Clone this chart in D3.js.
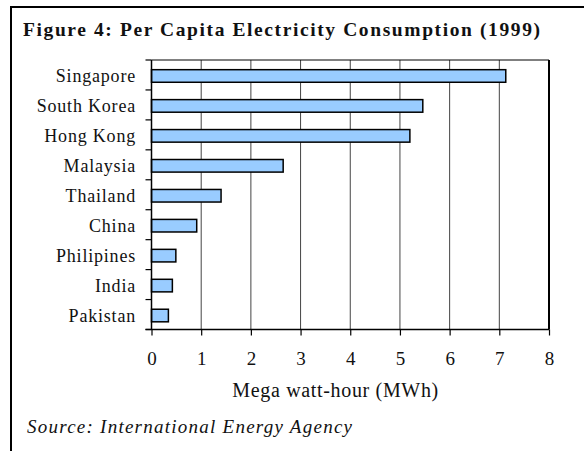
<!DOCTYPE html>
<html>
<head>
<meta charset="utf-8">
<script src="https://cdn.jsdelivr.net/npm/d3@7"></script>
<style>
  body { margin: 0; background: #fff; }
  svg text { font-family: "Liberation Serif", "Times New Roman", "DejaVu Serif", serif; fill: #111; }
</style>
</head>
<body>
<svg id="chart" width="584" height="451"></svg>
<script>
// data
const countries = ['Singapore','South Korea','Hong Kong','Malaysia','Thailand','China','Philipines','India','Pakistan'];
const mwh = [7.13, 5.46, 5.20, 2.65, 1.40, 0.91, 0.49, 0.42, 0.34];
const xTicks = [0,1,2,3,4,5,6,7,8];

const serif = '"Liberation Serif", "Times New Roman", "DejaVu Serif", serif';
const svg = d3.select('#chart');

// outer frame (only left + top visible)
svg.append('path')
  .attr('d','M11,451 V7 H584')
  .attr('fill','none')
  .attr('stroke','#000')
  .attr('stroke-width',2);

svg.append('text')
  .attr('x',23).attr('y',36)
  .attr('textLength',517)
  .attr('lengthAdjust','spacing')
  .style('font-family',serif)
  .style('font-weight','bold')
  .style('font-size','19.5px')
  .text('Figure 4: Per Capita Electricity Consumption (1999)');

const margin = {t:60,l:151.5,r:549,b:329.5};

const scaleX = d3.scaleLinear().domain([0,8]).range([margin.l,margin.r]);
const scaleY = d3.scaleBand().domain(countries).range([margin.t,margin.b]).paddingInner(0.58).paddingOuter(0.29);

const plot = svg.append('g');

//gridlines
plot.selectAll('.grid')
  .data(xTicks.slice(1,-1))
  .enter().append('line')
  .attr('class','grid')
  .attr('x1',d => scaleX(d)).attr('x2',d => scaleX(d))
  .attr('y1',margin.t).attr('y2',margin.b)
  .attr('stroke','#444').attr('stroke-width',1);

// top and right border of plot
plot.append('line')
  .attr('x1',margin.l).attr('x2',margin.r)
  .attr('y1',margin.t).attr('y2',margin.t)
  .attr('stroke','#000').attr('stroke-width',1);
plot.append('line')
  .attr('x1',margin.r).attr('x2',margin.r)
  .attr('y1',margin.t).attr('y2',margin.b)
  .attr('stroke','#000').attr('stroke-width',2);

//bars
plot.selectAll('.bar')
  .data(countries)
  .enter().append('rect')
  .attr('class','bar')
  .attr('x',scaleX(0))
  .attr('y',d => scaleY(d) + 1)
  .attr('width',(d,i) => scaleX(mwh[i]) - scaleX(0))
  .attr('height',scaleY.bandwidth())
  .attr('fill','#99ccff')
  .attr('stroke','#000')
  .attr('stroke-width',1.5);

// y axis: ticks between categories, labels right aligned
const step = scaleY.step();
plot.append('line')
  .attr('x1',margin.l).attr('x2',margin.l)
  .attr('y1',margin.t).attr('y2',margin.b)
  .attr('stroke','#000').attr('stroke-width',1.5);
plot.selectAll('.ytick')
  .data(d3.range(countries.length + 1))
  .enter().append('line')
  .attr('x1',margin.l - 6).attr('x2',margin.l)
  .attr('y1',i => margin.t + i*step).attr('y2',i => margin.t + i*step)
  .attr('stroke','#000').attr('stroke-width',1.2);
plot.selectAll('.ylabel')
  .data(countries)
  .enter().append('text')
  .attr('x',136)
  .attr('y',d => scaleY(d) + scaleY.bandwidth()/2 + 1)
  .attr('dy','0.35em')
  .attr('text-anchor','end')
  .style('font-family',serif)
  .style('font-size','18px')
  .style('letter-spacing','0.8px')
  .text(d => d);

// x axis
const axisX = d3.axisBottom(scaleX)
  .tickValues(xTicks)
  .tickSize(6)
  .tickPadding(16)
  .tickFormat(d3.format('d'));
const gx = plot.append('g')
  .attr('transform',`translate(0,${margin.b})`)
  .call(axisX);
gx.select('.domain').remove();
gx.selectAll('.tick line').attr('stroke','#000').attr('stroke-width',1.2);
gx.selectAll('.tick text')
  .style('font-family',serif)
  .style('font-size','19px')
  .attr('fill','#111');
gx.append('line')
  .attr('x1',margin.l - 6).attr('x2',margin.r)
  .attr('y1',0).attr('y2',0)
  .attr('stroke','#000').attr('stroke-width',1.5);

svg.append('text')
  .attr('x',(margin.l + margin.r)/2 - 15).attr('y',397)
  .attr('text-anchor','middle')
  .attr('textLength',206)
  .attr('lengthAdjust','spacing')
  .style('font-family',serif)
  .style('font-size','20px')
  .text('Mega watt-hour (MWh)');

svg.append('text')
  .attr('x',27).attr('y',433)
  .attr('textLength',325)
  .attr('lengthAdjust','spacing')
  .style('font-family',serif)
  .style('font-style','italic')
  .style('font-size','19px')
  .text('Source: International Energy Agency');
</script>
</body>
</html>
